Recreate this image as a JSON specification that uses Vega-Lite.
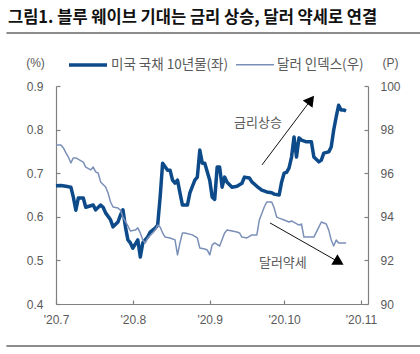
{
  "$schema": "https://vega.github.io/schema/vega-lite/v6.json",
  "width": 312,
  "height": 218,
  "autosize": {"type": "none"},
  "padding": {"left": 56, "top": 86, "right": 52, "bottom": 50},
  "background": "white",
  "config": {
    "view": {"stroke": null},
    "axis": {"labelFont": "Liberation Sans", "labelFontSize": 12, "labelColor": "#595959", "domainColor": "#808080", "tickColor": "#808080", "grid": false, "tickSize": -4, "domainWidth": 1.2, "tickWidth": 1.2}
  },
  "title": {
    "text": "그림1. 블루 웨이브 기대는 금리 상승, 달러 약세로 연결",
    "font": "Noto Sans CJK KR",
    "fontSize": 16.5,
    "fontWeight": "bold",
    "color": "#111111",
    "anchor": "start",
    "frame": "group",
    "dx": -48,
    "dy": -1
  },
  "datasets": {
    "ust": [
      {"d": "2020-07-01", "v": 0.671}, {"d": "2020-07-03", "v": 0.672}, {"d": "2020-07-05", "v": 0.670}, {"d": "2020-07-07", "v": 0.668},
      {"d": "2020-07-08", "v": 0.645}, {"d": "2020-07-09", "v": 0.615}, {"d": "2020-07-10", "v": 0.643}, {"d": "2020-07-12", "v": 0.643},
      {"d": "2020-07-13", "v": 0.622}, {"d": "2020-07-16", "v": 0.627}, {"d": "2020-07-17", "v": 0.616}, {"d": "2020-07-19", "v": 0.627},
      {"d": "2020-07-20", "v": 0.622}, {"d": "2020-07-21", "v": 0.609}, {"d": "2020-07-23", "v": 0.593}, {"d": "2020-07-24", "v": 0.577},
      {"d": "2020-07-26", "v": 0.588}, {"d": "2020-07-27", "v": 0.604}, {"d": "2020-07-28", "v": 0.616}, {"d": "2020-07-29", "v": 0.577},
      {"d": "2020-07-30", "v": 0.547}, {"d": "2020-07-31", "v": 0.540}, {"d": "2020-08-01", "v": 0.528}, {"d": "2020-08-03", "v": 0.547},
      {"d": "2020-08-04", "v": 0.508}, {"d": "2020-08-05", "v": 0.540}, {"d": "2020-08-07", "v": 0.554}, {"d": "2020-08-08", "v": 0.565},
      {"d": "2020-08-10", "v": 0.574}, {"d": "2020-08-11", "v": 0.581}, {"d": "2020-08-12", "v": 0.645}, {"d": "2020-08-13", "v": 0.723},
      {"d": "2020-08-15", "v": 0.707}, {"d": "2020-08-16", "v": 0.707}, {"d": "2020-08-17", "v": 0.684}, {"d": "2020-08-18", "v": 0.677},
      {"d": "2020-08-19", "v": 0.684}, {"d": "2020-08-20", "v": 0.655}, {"d": "2020-08-21", "v": 0.627}, {"d": "2020-08-23", "v": 0.627},
      {"d": "2020-08-24", "v": 0.655}, {"d": "2020-08-26", "v": 0.684}, {"d": "2020-08-27", "v": 0.691}, {"d": "2020-08-28", "v": 0.753},
      {"d": "2020-08-29", "v": 0.723}, {"d": "2020-08-30", "v": 0.723}, {"d": "2020-09-01", "v": 0.684}, {"d": "2020-09-02", "v": 0.645},
      {"d": "2020-09-03", "v": 0.640}, {"d": "2020-09-04", "v": 0.714}, {"d": "2020-09-05", "v": 0.714}, {"d": "2020-09-06", "v": 0.668},
      {"d": "2020-09-07", "v": 0.691}, {"d": "2020-09-08", "v": 0.679}, {"d": "2020-09-10", "v": 0.668}, {"d": "2020-09-12", "v": 0.670},
      {"d": "2020-09-14", "v": 0.677}, {"d": "2020-09-15", "v": 0.691}, {"d": "2020-09-17", "v": 0.689}, {"d": "2020-09-18", "v": 0.680},
      {"d": "2020-09-20", "v": 0.670}, {"d": "2020-09-22", "v": 0.661}, {"d": "2020-09-24", "v": 0.657}, {"d": "2020-09-26", "v": 0.655},
      {"d": "2020-09-27", "v": 0.652}, {"d": "2020-09-29", "v": 0.650}, {"d": "2020-09-30", "v": 0.680}, {"d": "2020-10-01", "v": 0.700},
      {"d": "2020-10-02", "v": 0.702}, {"d": "2020-10-03", "v": 0.712}, {"d": "2020-10-04", "v": 0.737}, {"d": "2020-10-05", "v": 0.783},
      {"d": "2020-10-06", "v": 0.737}, {"d": "2020-10-07", "v": 0.781}, {"d": "2020-10-08", "v": 0.776}, {"d": "2020-10-10", "v": 0.772},
      {"d": "2020-10-12", "v": 0.772}, {"d": "2020-10-13", "v": 0.737}, {"d": "2020-10-15", "v": 0.726}, {"d": "2020-10-16", "v": 0.730},
      {"d": "2020-10-17", "v": 0.746}, {"d": "2020-10-19", "v": 0.749}, {"d": "2020-10-20", "v": 0.760}, {"d": "2020-10-21", "v": 0.799},
      {"d": "2020-10-22", "v": 0.829}, {"d": "2020-10-23", "v": 0.856}, {"d": "2020-10-24", "v": 0.845}, {"d": "2020-10-25", "v": 0.845},
      {"d": "2020-10-26", "v": 0.843}
    ],
    "dxy": [
      {"d": "2020-07-01", "v": 97.29}, {"d": "2020-07-03", "v": 97.29}, {"d": "2020-07-04", "v": 97.16}, {"d": "2020-07-05", "v": 96.93},
      {"d": "2020-07-06", "v": 96.74}, {"d": "2020-07-07", "v": 96.47}, {"d": "2020-07-08", "v": 96.70}, {"d": "2020-07-09", "v": 96.70},
      {"d": "2020-07-12", "v": 96.51}, {"d": "2020-07-13", "v": 96.28}, {"d": "2020-07-15", "v": 96.15}, {"d": "2020-07-16", "v": 96.28},
      {"d": "2020-07-17", "v": 96.06}, {"d": "2020-07-18", "v": 96.01}, {"d": "2020-07-19", "v": 95.60}, {"d": "2020-07-21", "v": 95.37},
      {"d": "2020-07-22", "v": 95.09}, {"d": "2020-07-23", "v": 94.68}, {"d": "2020-07-24", "v": 94.45}, {"d": "2020-07-26", "v": 94.40},
      {"d": "2020-07-27", "v": 94.31}, {"d": "2020-07-28", "v": 93.99}, {"d": "2020-07-30", "v": 93.58}, {"d": "2020-07-31", "v": 93.35},
      {"d": "2020-08-02", "v": 93.39}, {"d": "2020-08-03", "v": 93.49}, {"d": "2020-08-04", "v": 93.26}, {"d": "2020-08-05", "v": 92.94},
      {"d": "2020-08-06", "v": 92.80}, {"d": "2020-08-07", "v": 93.03}, {"d": "2020-08-09", "v": 93.26}, {"d": "2020-08-10", "v": 93.39},
      {"d": "2020-08-11", "v": 93.62}, {"d": "2020-08-12", "v": 93.53}, {"d": "2020-08-13", "v": 93.26}, {"d": "2020-08-14", "v": 93.07},
      {"d": "2020-08-16", "v": 93.03}, {"d": "2020-08-18", "v": 92.94}, {"d": "2020-08-19", "v": 92.25}, {"d": "2020-08-20", "v": 92.80},
      {"d": "2020-08-21", "v": 93.26}, {"d": "2020-08-22", "v": 93.26}, {"d": "2020-08-25", "v": 93.17}, {"d": "2020-08-27", "v": 93.03},
      {"d": "2020-08-28", "v": 92.57}, {"d": "2020-08-30", "v": 92.52}, {"d": "2020-08-31", "v": 92.48}, {"d": "2020-09-01", "v": 92.25},
      {"d": "2020-09-02", "v": 92.71}, {"d": "2020-09-03", "v": 92.80}, {"d": "2020-09-05", "v": 92.66}, {"d": "2020-09-07", "v": 93.26},
      {"d": "2020-09-08", "v": 93.39}, {"d": "2020-09-10", "v": 93.35}, {"d": "2020-09-12", "v": 93.30}, {"d": "2020-09-13", "v": 93.26},
      {"d": "2020-09-14", "v": 93.07}, {"d": "2020-09-16", "v": 93.03}, {"d": "2020-09-18", "v": 93.17}, {"d": "2020-09-20", "v": 93.17},
      {"d": "2020-09-21", "v": 93.85}, {"d": "2020-09-23", "v": 94.45}, {"d": "2020-09-24", "v": 94.68}, {"d": "2020-09-26", "v": 94.68},
      {"d": "2020-09-27", "v": 94.40}, {"d": "2020-09-28", "v": 93.99}, {"d": "2020-09-29", "v": 93.94}, {"d": "2020-10-01", "v": 93.85},
      {"d": "2020-10-03", "v": 93.76}, {"d": "2020-10-04", "v": 93.81}, {"d": "2020-10-07", "v": 93.62}, {"d": "2020-10-08", "v": 93.67},
      {"d": "2020-10-09", "v": 93.07}, {"d": "2020-10-13", "v": 93.07}, {"d": "2020-10-15", "v": 93.53}, {"d": "2020-10-16", "v": 93.76},
      {"d": "2020-10-18", "v": 93.67}, {"d": "2020-10-19", "v": 93.39}, {"d": "2020-10-20", "v": 92.94}, {"d": "2020-10-21", "v": 92.66},
      {"d": "2020-10-22", "v": 92.94}, {"d": "2020-10-23", "v": 92.80}, {"d": "2020-10-26", "v": 92.80}
    ],
    "arrowUp": [{"d": "2020-09-22T02:00:00Z", "v": 0.719, "d2": "2020-10-11T19:00:00Z", "v2": 0.868}],
    "arrowDown": [{"d": "2020-09-25T07:00:00Z", "v": 0.586, "d2": "2020-10-23T03:00:00Z", "v2": 0.496}],
    "notes": [
      {"d": "2020-09-20T11:00:00Z", "v": 0.815, "t": "금리상승"},
      {"d": "2020-09-30T12:00:00Z", "v": 0.494, "t": "달러약세"}
    ],
    "frames": [
      {"d": "2020-06-11", "d2": "2020-11-25", "v": 1.0216},
      {"d": "2020-06-11", "d2": "2020-11-25", "v": 0.3037}
    ]
  },
  "encoding": {
    "x": {
      "field": "d", "type": "temporal",
      "scale": {"type": "utc", "nice": false, "domain": [{"year": 2020, "month": 7, "date": 1, "utc": true}, {"year": 2020, "month": 11, "date": 3, "hours": 20, "utc": true}]},
      "axis": {
        "title": null,
        "values": [
          {"year": 2020, "month": 7, "date": 1, "utc": true},
          {"year": 2020, "month": 8, "date": 1, "utc": true},
          {"year": 2020, "month": 9, "date": 1, "utc": true},
          {"year": 2020, "month": 10, "date": 1, "utc": true},
          {"year": 2020, "month": 11, "date": 1, "utc": true}
        ],
        "labelExpr": "\"'\" + (utcyear(datum.value) % 100) + '.' + (utcmonth(datum.value) + 1)",
        "labelPadding": 14,
        "labelFlush": false,
        "labelOverlap": false
      }
    }
  },
  "layer": [
    {
      "encoding": {
        "y": {
          "field": "v", "type": "quantitative",
          "scale": {"domain": [0.4, 0.9], "nice": false, "zero": false},
          "axis": {"orient": "left", "values": [0.4, 0.5, 0.6, 0.7, 0.8, 0.9], "format": ".1f", "labelPadding": 17,
            "title": "(%)", "titleAngle": 0, "titleX": -21, "titleY": -24, "titleAlign": "center", "titleBaseline": "middle",
            "titleFont": "Liberation Sans", "titleFontSize": 12, "titleFontWeight": "normal", "titleColor": "#595959"}
        }
      },
      "layer": [
        {
          "data": {"name": "frames"},
          "mark": {"type": "rule", "color": "#8c8c8c", "strokeWidth": 2},
          "encoding": {"x2": {"field": "d2"}}
        },
        {
          "data": {"name": "ust"},
          "transform": [{"calculate": "'미국 국채 10년물(좌)'", "as": "s"}],
          "mark": {"type": "line", "strokeJoin": "round"},
          "encoding": {
            "color": {"field": "s", "type": "nominal", "scale": {"domain": ["미국 국채 10년물(좌)", "달러 인덱스(우)"], "range": ["#0d4a8a", "#7b90b8"]},
              "legend": {"title": null, "orient": "none", "legendX": 11, "legendY": -42, "direction": "horizontal", "symbolType": "stroke", "symbolSize": 1444,
                "labelFont": "Noto Sans CJK KR", "labelFontSize": 13.5, "labelColor": "#595959", "columnPadding": 4, "labelOffset": 2, "padding": 0}},
            "strokeWidth": {"field": "s", "type": "nominal", "scale": {"domain": ["미국 국채 10년물(좌)", "달러 인덱스(우)"], "range": [3.5, 1.5]},
              "legend": {"title": null, "orient": "none", "legendX": 11, "legendY": -42, "direction": "horizontal", "symbolType": "stroke", "symbolSize": 1444,
                "labelFont": "Noto Sans CJK KR", "labelFontSize": 13.5, "labelColor": "#595959", "columnPadding": 4, "labelOffset": 2, "padding": 0}}
          }
        },
        {
          "data": {"name": "arrowUp"},
          "mark": {"type": "rule", "color": "#111111", "strokeWidth": 1},
          "encoding": {"x2": {"field": "d2"}, "y2": {"field": "v2"}}
        },
        {
          "data": {"name": "arrowDown"},
          "mark": {"type": "rule", "color": "#111111", "strokeWidth": 1},
          "encoding": {"x2": {"field": "d2"}, "y2": {"field": "v2"}}
        },
        {
          "data": {"name": "arrowUp"},
          "mark": {"type": "point", "shape": "triangle-up", "filled": true, "color": "#000000", "size": 150, "angle": 37, "opacity": 1},
          "encoding": {"x": {"field": "d2", "type": "temporal"}, "y": {"field": "v2", "type": "quantitative"}}
        },
        {
          "data": {"name": "arrowDown"},
          "mark": {"type": "point", "shape": "triangle-up", "filled": true, "color": "#000000", "size": 150, "angle": 120, "opacity": 1},
          "encoding": {"x": {"field": "d2", "type": "temporal"}, "y": {"field": "v2", "type": "quantitative"}}
        },
        {
          "data": {"name": "notes"},
          "mark": {"type": "text", "font": "Noto Sans CJK KR", "fontSize": 13, "color": "#595959", "align": "center", "baseline": "middle"},
          "encoding": {"text": {"field": "t"}}
        }
      ]
    },
    {
      "data": {"name": "dxy"},
      "transform": [{"calculate": "'달러 인덱스(우)'", "as": "s"}],
      "mark": {"type": "line", "strokeJoin": "round"},
      "encoding": {
        "y": {
          "field": "v", "type": "quantitative",
          "scale": {"domain": [90, 100], "nice": false, "zero": false},
          "axis": {"orient": "right", "values": [90, 92, 94, 96, 98, 100], "labelPadding": 16,
            "title": "(P)", "titleAngle": 0, "titleX": 22, "titleY": -24, "titleAlign": "center", "titleBaseline": "middle",
            "titleFont": "Liberation Sans", "titleFontSize": 12, "titleFontWeight": "normal", "titleColor": "#595959"}
        },
        "color": {"field": "s", "type": "nominal"},
        "strokeWidth": {"field": "s", "type": "nominal"}
      }
    }
  ],
  "resolve": {"scale": {"y": "independent"}, "axis": {"y": "independent"}}
}
